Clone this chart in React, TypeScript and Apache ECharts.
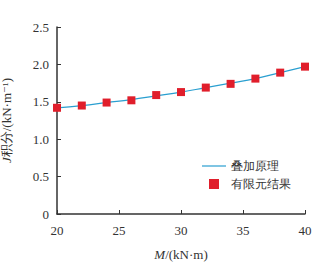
import React, { useEffect, useRef } from "react";
import * as echarts from "echarts";

const xCategories = [20, 22, 24, 26, 28, 30, 32, 34, 36, 38, 40];
const superpositionValues = [1.42, 1.45, 1.49, 1.53, 1.58, 1.63, 1.69, 1.75, 1.81, 1.89, 1.97];
const feValues = [1.42, 1.45, 1.49, 1.52, 1.59, 1.63, 1.69, 1.74, 1.81, 1.89, 1.97];
const seriesNames = ["叠加原理", "有限元结果"];

const serif = "Times New Roman, Liberation Serif, DejaVu Serif, serif";
const lineColor = "#2a9fd0";
const markColor = "#e01e2b";

export default function App() {
  const ref = useRef<HTMLDivElement>(null);
  useEffect(() => {
    if (!ref.current) return;
    const chart = echarts.init(ref.current, undefined, { renderer: "svg" });
    chart.setOption({
      animation: false,
      textStyle: { fontFamily: serif },
      grid: { left: 57, right: 21, top: 27, bottom: 54, containLabel: false, outerBoundsMode: "none" },
      legend: {
        orient: "vertical",
        left: 197,
        top: 155,
        itemGap: 6,
        itemWidth: 24,
        itemHeight: 10,
        textStyle: { fontFamily: serif, fontSize: 12, color: "#333" },
        data: [
          {
            name: seriesNames[0],
            icon: "path://M0,0 L24,0 L24,1.2 L0,1.2 Z",
            itemStyle: { color: lineColor },
          },
          {
            name: seriesNames[1],
            icon: "path://M0,0 L10,0 L10,10 L0,10 Z",
            itemStyle: { color: markColor, opacity: 1 },
          },
        ],
      },
      xAxis: {
        type: "value",
        min: 20,
        max: 40,
        interval: 5,
        name: "{i|M}/(kN·m)",
        nameLocation: "middle",
        nameGap: 34,
        nameTextStyle: {
          fontFamily: serif,
          fontSize: 13,
          color: "#333",
          rich: { i: { fontStyle: "italic", fontFamily: serif, fontSize: 13, color: "#333" } },
        },
        axisLine: { lineStyle: { color: "#333", width: 1.5 } },
        axisTick: { inside: true, length: 4, lineStyle: { color: "#333" } },
        axisLabel: { fontFamily: serif, fontSize: 13, color: "#333", margin: 10 },
        splitLine: { show: false },
      },
      yAxis: {
        type: "value",
        min: 0,
        max: 2.5,
        interval: 0.5,
        name: "{i|J}积分/(kN·m⁻¹)",
        nameLocation: "middle",
        nameRotate: 90,
        nameGap: 44,
        nameTextStyle: {
          fontFamily: serif,
          fontSize: 13,
          color: "#333",
          rich: { i: { fontStyle: "italic", fontFamily: serif, fontSize: 13, color: "#333" } },
        },
        axisLine: { show: true, lineStyle: { color: "#333", width: 1.5 } },
        axisTick: { show: true, inside: true, length: 4, lineStyle: { color: "#333" } },
        axisLabel: {
          fontFamily: serif,
          fontSize: 13,
          color: "#333",
          margin: 8,
          formatter: (v: number) => (v === 0 ? "0" : v.toFixed(1)),
        },
        splitLine: { show: false },
      },
      series: [
        {
          name: seriesNames[0],
          type: "line",
          data: xCategories.map((x, i) => [x, superpositionValues[i]]),
          smooth: true,
          symbol: "none",
          lineStyle: { color: lineColor, width: 1.2 },
          itemStyle: { color: lineColor },
          z: 2,
        },
        {
          name: seriesNames[1],
          type: "scatter",
          data: xCategories.map((x, i) => [x, feValues[i]]),
          symbol: "rect",
          symbolSize: 8,
          itemStyle: { color: markColor, opacity: 1 },
          z: 3,
        },
      ],
    });
    return () => chart.dispose();
  }, []);
  return (
    <div
      ref={ref}
      style={{ position: "fixed", left: 0, top: 0, width: 326, height: 268, background: "#fff" }}
    />
  );
}
